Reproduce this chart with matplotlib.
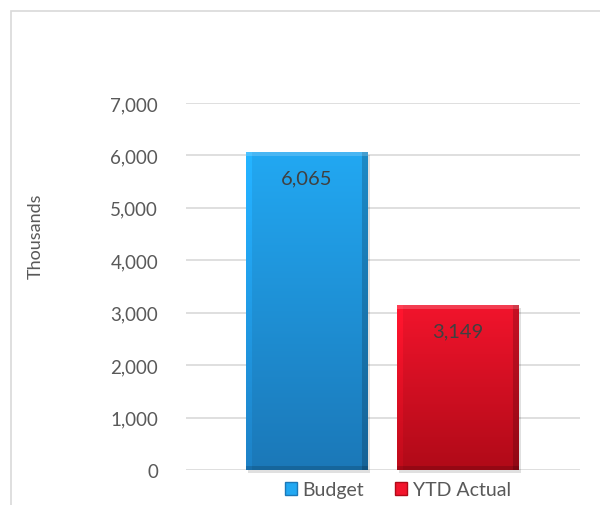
import numpy as np
import matplotlib
matplotlib.use("Agg")
import matplotlib.pyplot as plt
from matplotlib.patches import Rectangle
from matplotlib.colors import to_rgb

categories = ["Budget", "YTD Actual"]
values = [6065, 3149]
value_labels = ["6,065", "3,149"]
yticks = [0, 1000, 2000, 3000, 4000, 5000, 6000, 7000]
ytick_labels = ["0", "1,000", "2,000", "3,000", "4,000", "5,000", "6,000", "7,000"]

top_colors = ["#22A8F2", "#F2142C"]
bot_colors = ["#1B78B8", "#B00A18"]

plt.rcParams['font.family'] = ['Lato', 'DejaVu Sans']
W, H = 600, 506
fig = plt.figure(figsize=(W / 100, H / 100), dpi=100)

# outer border (open at right and bottom, as in the reference crop)
fig.patches.append(Rectangle((11 / W, -0.2), 1.2, 1.2 - 12 / H, transform=fig.transFigure,
                             fill=False, edgecolor="#D9D9D9", lw=1.2))

ax = fig.add_axes([186 / W, 1 - 471 / H, (580 - 186) / W, (471 - 104) / H])
ax.set_xlim(0, 1)
ax.set_ylim(0, 7000)
ax.set_yticks(yticks)
ax.set_yticklabels(ytick_labels, fontsize=13.5, color="#595959")
ax.tick_params(axis='y', length=0, pad=20)
ax.set_xticks([])
for s in ax.spines.values():
    s.set_visible(False)
ax.grid(axis='y', color="#D9D9D9", lw=1.2)
ax.set_axisbelow(True)

centers = [(307 - 186) / 394, (458 - 186) / 394]
width = 122 / 394


def bevel_image(top, bot, nx=120, ny=300, edge=0.045):
    t = np.array(to_rgb(top))
    b = np.array(to_rgb(bot))
    yy = np.linspace(0, 1, ny)[:, None]
    base = t[None, None, :] * (1 - yy[..., None]) + b[None, None, :] * yy[..., None]
    img = np.repeat(base, nx, axis=1)
    xx = np.linspace(0, 1, nx)[None, :]
    shade = np.ones((ny, nx))
    shade = np.where(xx < edge, 1.08, shade)
    shade = np.where(xx > 1 - edge, 0.82, shade)
    return np.clip(img * shade[..., None], 0, 1)


for i, (c, v) in enumerate(zip(centers, values)):
    ax.add_patch(Rectangle((c - width / 2 + 0.004, -60), width, v, color="#000000",
                           alpha=0.12, lw=0, zorder=1.5, clip_on=False))
    bar = ax.bar(c, v, width=width, color=top_colors[i], edgecolor="none", zorder=2)[0]
    img = bevel_image(top_colors[i], bot_colors[i])
    im = ax.imshow(img, extent=(c - width / 2, c + width / 2, 0, v), aspect='auto',
                   origin='upper', zorder=2.5)
    im.set_clip_path(bar)
    ax.add_patch(Rectangle((c - width / 2, v - 70), width, 70, color="white", alpha=0.18,
                           lw=0, zorder=2.6))
    ax.add_patch(Rectangle((c - width / 2, 0), width, 80, color="black", alpha=0.15,
                           lw=0, zorder=2.6))
    ax.text(c, v - 490, value_labels[i], ha='center', va='center', fontsize=14.5,
            color="#404040", zorder=3)

ax.set_xlim(0, 1)
ax.set_ylim(0, 7000)

fig.text(36 / W, 1 - 236 / H, "Thousands", rotation=90, ha='center', va='center',
         fontsize=13, color="#595959")

handles = [Rectangle((0, 0), 1, 1, facecolor=top_colors[i], edgecolor=bot_colors[i], lw=1)
           for i in range(2)]
fig.legend(handles, categories, loc='center', bbox_to_anchor=(398 / W, 1 - 491 / H),
           ncol=2, frameon=False, fontsize=14, handlelength=0.6, handleheight=0.6,
           handletextpad=0.3, columnspacing=1.6, labelcolor="#595959")

fig.savefig("out.png", dpi=100)
